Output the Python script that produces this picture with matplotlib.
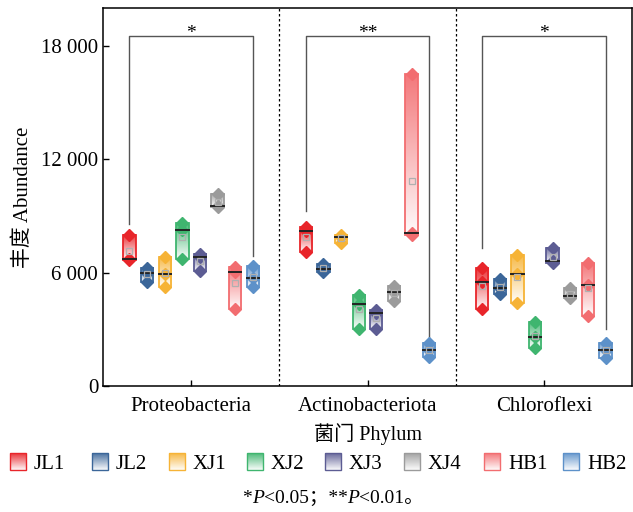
import numpy as np
import matplotlib
matplotlib.use("Agg")
import matplotlib.pyplot as plt
from matplotlib.colors import to_rgb
from matplotlib.patches import Rectangle

plt.rcParams['font.family'] = ['Liberation Serif', 'Noto Sans CJK SC']

phyla = ['Proteobacteria', 'Actinobacteriota', 'Chloroflexi']
groups = ['JL1', 'JL2', 'XJ1', 'XJ2', 'XJ3', 'XJ4', 'HB1', 'HB2']
colors = ['#e8252a', '#3b6699', '#f6b336', '#3fb56f', '#5c5c93', '#9b9b9b', '#f26d70', '#5d91c9']

# three replicates per group
proteobacteria = [
    [8000, 6700, 6650],
    [6250, 6000, 5500],
    [6850, 5900, 5250],
    [8600, 8280, 6700],
    [7000, 6800, 6100],
    [10150, 9550, 9450],
    [6300, 6050, 4050],
    [6350, 5700, 5250],
]
actinobacteriota = [
    [8400, 8200, 7100],
    [6450, 6200, 6050],
    [8000, 7900, 7550],
    [4800, 4350, 3000],
    [4000, 3850, 3000],
    [5300, 4950, 4500],
    [16500, 8100, 8000],
    [2300, 1900, 1550],
]
chloroflexi = [
    [6250, 5500, 4100],
    [5650, 5200, 4850],
    [6950, 5950, 4400],
    [3400, 2600, 2000],
    [7300, 6600, 6500],
    [5200, 4750, 4650],
    [6500, 5350, 3700],
    [2300, 1900, 1500],
]
data = [proteobacteria, actinobacteriota, chloroflexi]

sig_labels = ['*', '**', '*']
sig_top = 18500
sig_leg_ends = [(8550, 6900), (9250, 2600), (7300, 3000)]

yticks = [0, 6000, 12000, 18000]
ytick_labels = ['0', '6 000', '12 000', '18 000']


def gradient(color, n=64):
    c = np.array(to_rgb(color))
    t = np.linspace(0.03, 0.92, n)[:, None]
    rgb = 1 - t * (1 - c)
    return rgb[:, None, :]


fig = plt.figure(figsize=(6.33, 5.12), dpi=100)
ax = fig.add_axes([103 / 633, 126 / 512, 529 / 633, 378 / 512])

offsets = (np.arange(len(groups)) - 3.5) * 0.1
w = 0.07

for p, phylum in enumerate(data):
    for g, vals in enumerate(phylum):
        x = p + offsets[g]
        v = np.array(vals, dtype=float)
        lo, hi = v.min(), v.max()
        col = colors[g]
        ax.imshow(gradient(col), extent=(x - w / 2, x + w / 2, lo, hi),
                  origin='lower', aspect='auto', zorder=2, interpolation='bilinear')
        ax.add_patch(Rectangle((x - w / 2, lo), w, hi - lo, fill=False,
                               edgecolor=col, lw=1.3, zorder=3))
        ax.plot([x] * len(v), v, 'D', color=col, ms=6, mec=col, zorder=4)
        ax.plot([x - w / 2, x + w / 2], [np.median(v)] * 2, color='#222222', lw=1.4, zorder=5)
        ax.plot(x, v.mean(), 's', ms=5, mfc='none', mec='#b0b0b0', mew=0.9, zorder=5)

    # significance bracket
    xl, xr = p + offsets[0], p + offsets[-1]
    el, er = sig_leg_ends[p]
    ax.plot([xl, xl, xr, xr], [el, sig_top, sig_top, er], color='#555555', lw=1.0, zorder=1)
    ax.text(p, sig_top - 80, sig_labels[p], ha='center', va='baseline', fontsize=14)

for xd in [0.5, 1.5]:
    ax.axvline(xd, color='black', ls=(0, (2, 2)), lw=0.9)

ax.set_xlim(-0.5, 2.5)
ax.set_ylim(0, 20000)
ax.set_xticks(range(len(phyla)))
ax.set_xticklabels(phyla, fontsize=15)
ax.set_yticks(yticks)
ax.set_yticklabels(ytick_labels, fontsize=15)
ax.tick_params(axis='both', direction='in', length=4, width=1)
ax.tick_params(axis='x', pad=8)
for s in ax.spines.values():
    s.set_linewidth(1.1)
ax.set_xlabel('菌门 Phylum', fontsize=14.5, labelpad=5)
ax.set_ylabel('丰度 Abundance', fontsize=15, labelpad=6)

# legend row
lax = fig.add_axes([0, 0, 1, 1], zorder=-1)
lax.axis('off')
leg_x = [10, 92, 169, 247, 325, 404, 484, 563]
for g, name in enumerate(groups):
    x0 = leg_x[g]
    lax.imshow(gradient(colors[g]), extent=(x0, x0 + 16, 470, 453),
               origin='lower', aspect='auto', interpolation='bilinear')
    lax.add_patch(Rectangle((x0, 453), 16, 17, fill=False, edgecolor=colors[g], lw=1.0))
    lax.text(x0 + 24, 469, name, ha='left', va='baseline', fontsize=15)
lax.set_xlim(0, 633)
lax.set_ylim(512, 0)

# footnote
pieces = [('*', 'normal'), ('P', 'italic'), ('<0.05；**', 'normal'), ('P', 'italic'), ('<0.01。', 'normal')]
anchor = fig.text(242 / 633, 9 / 512, pieces[0][0], fontsize=14, style=pieces[0][1],
                  ha='left', va='baseline')
for txt, st in pieces[1:]:
    anchor = ax.annotate(txt, xy=(1, 0), xycoords=anchor, ha='left', va='bottom',
                         fontsize=14, style=st, annotation_clip=False)

fig.savefig('out.png', dpi=100)
